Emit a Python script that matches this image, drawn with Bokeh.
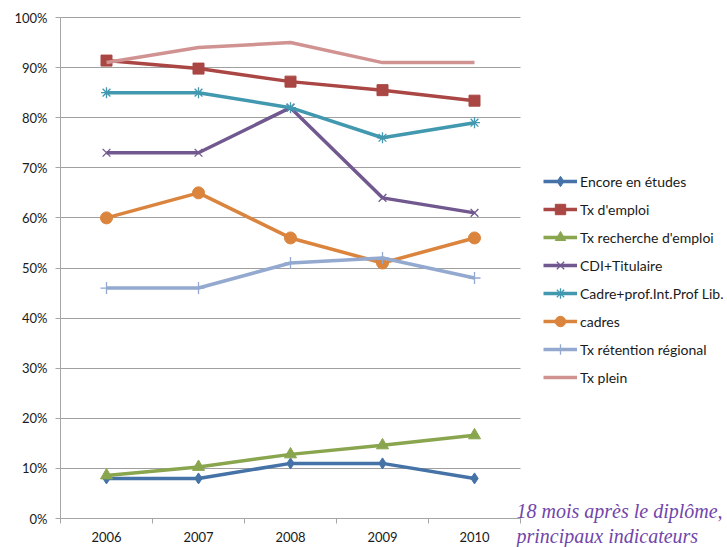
from bokeh.plotting import figure
from bokeh.models import (Range1d, FixedTicker, NumeralTickFormatter, Legend, LegendItem,
                          Label, ColumnDataSource)
from bokeh.embed import file_html
from bokeh.resources import INLINE

years = ["2006", "2007", "2008", "2009", "2010"]
encore = [0.08, 0.08, 0.11, 0.11, 0.08]
emploi = [0.914, 0.898, 0.872, 0.855, 0.834]
recherche = [0.086, 0.103, 0.128, 0.146, 0.166]
cdi = [0.73, 0.73, 0.82, 0.64, 0.61]
cadre_prof = [0.85, 0.85, 0.82, 0.76, 0.79]
cadres = [0.60, 0.65, 0.56, 0.51, 0.56]
retention = [0.46, 0.46, 0.51, 0.52, 0.48]
plein = [0.91, 0.94, 0.95, 0.91, 0.91]

y_ticks = [0, 0.1, 0.2, 0.3, 0.4, 0.5, 0.6, 0.7, 0.8, 0.9, 1.0]

series = [
    ("Encore en études", encore, "#4572A7", "diamond", 11, 1),
    ("Tx d'emploi", emploi, "#AA4643", "square", 11, 1),
    ("Tx recherche d'emploi", recherche, "#89A54E", "triangle", 12, 1),
    ("CDI+Titulaire", cdi, "#71588F", "x", 11, 1.3),
    ("Cadre+prof.Int.Prof Lib.", cadre_prof, "#4198AF", "asterisk", 11, 1.3),
    ("cadres", cadres, "#DB843D", "circle", 12, 1),
    ("Tx rétention régional", retention, "#93A9CF", "cross", 12, 1.3),
    ("Tx plein", plein, "#D19392", None, 0, 1),
]

W, H = 727, 547
# plot area in pixels: x 60..520, y 17 (100%) .. 518 (0%)
PX_L, PX_R, PY_T, PY_B = 60, 520, 17, 518
n = len(years)
sx = (PX_R - PX_L) / n
sy = (PY_B - PY_T) / 1.0

p = figure(width=W, height=H, output_backend="svg", toolbar_location=None,
           x_range=Range1d(-PX_L / sx, (W - PX_L) / sx),
           y_range=Range1d(-(H - PY_B) / sy, 1 + PY_T / sy),
           min_border_left=0, min_border_right=0, min_border_top=0,
           min_border_bottom=0)
p.outline_line_color = None
p.background_fill_color = "white"
p.border_fill_color = "white"

xs = [i + 0.5 for i in range(n)]

items = []
for name, vals, color, marker, size, lw in series:
    src = ColumnDataSource(dict(x=xs, y=vals))
    rs = [p.line("x", "y", source=src, line_color=color, line_width=3.5)]
    if marker:
        if marker in ("x", "asterisk", "cross"):
            rs.append(p.scatter("x", "y", source=src, marker=marker, size=size,
                                line_color=color, line_width=lw, fill_color=None))
        else:
            rs.append(p.scatter("x", "y", source=src, marker=marker, size=size,
                                line_color=color, fill_color=color))
    items.append(LegendItem(label=name, renderers=rs))

# axes
xa = p.xaxis[0]
xa.fixed_location = 0
xa.bounds = (0, n)
xa.ticker = FixedTicker(ticks=xs, minor_ticks=list(range(n + 1)))
xa.major_label_overrides = {x: y for x, y in zip(xs, years)}
xa.major_tick_out = 0
xa.major_tick_in = 0
xa.minor_tick_out = 5
xa.minor_tick_in = 0
xa.minor_tick_line_color = "#A6A6A6"
xa.axis_line_color = "#A6A6A6"
xa.major_label_standoff = 8
xa.major_label_text_font = "Lato"
xa.major_label_text_font_size = "13px"
xa.major_label_text_color = "#1a1a1a"

ya = p.yaxis[0]
ya.fixed_location = 0
ya.bounds = (0, 1)
ya.ticker = FixedTicker(ticks=y_ticks, minor_ticks=[])
ya.formatter = NumeralTickFormatter(format="0%")
ya.major_tick_out = 5
ya.major_tick_in = 0
ya.major_tick_line_color = "#A6A6A6"
ya.axis_line_color = "#A6A6A6"
ya.major_label_standoff = 8
ya.major_label_text_font = "Lato"
ya.major_label_text_font_size = "13px"
ya.major_label_text_color = "#1a1a1a"

p.xgrid.visible = False
g = p.ygrid[0]
g.ticker = FixedTicker(ticks=y_ticks)
g.bounds = (0, 1)
g.cross_bounds = (0, n)
g.grid_line_color = "#A0A0A0"
g.grid_line_width = 1

legend = Legend(items=items, location=(543, 157), orientation="vertical",
                glyph_width=34, glyph_height=26, label_height=26, spacing=2,
                label_standoff=3, padding=0, margin=0,
                border_line_color=None, background_fill_alpha=0,
                label_text_font="Lato", label_text_font_size="14px",
                label_text_color="#1a1a1a")
p.add_layout(legend, "center")

title_color = "#7145AA"
p.add_layout(Label(x=516, y=26, x_units="screen", y_units="screen",
                   text="18 mois après le diplôme,", text_font="Liberation Serif",
                   text_font_style="italic", text_font_size="20px",
                   text_color=title_color, text_baseline="bottom"))
p.add_layout(Label(x=516, y=1, x_units="screen", y_units="screen",
                   text="principaux indicateurs", text_font="Liberation Serif",
                   text_font_style="italic", text_font_size="20px",
                   text_color=title_color, text_baseline="bottom"))

open("out.html", "w").write(file_html(p, INLINE))
